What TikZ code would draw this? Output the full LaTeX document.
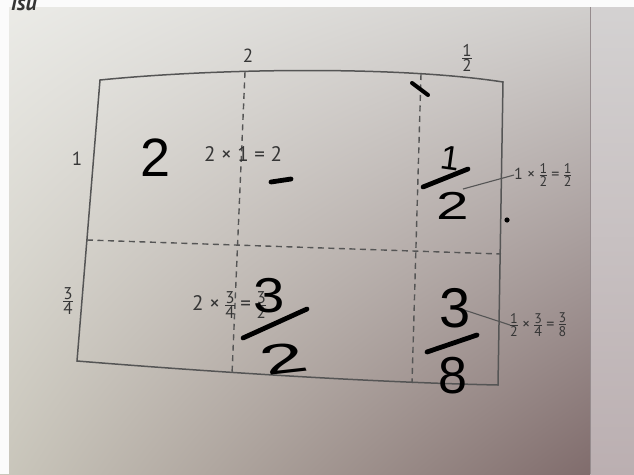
\documentclass[tikz,border=0pt]{standalone}
\usepackage{fontspec}
\usetikzlibrary{shadings}
\setmainfont{PT Sans}
\newfontfamily\handfont{Liberation Sans}
\newcommand\fsz[1]{\fontsize{#1}{#1}\selectfont}
\newcommand\fr[3]{\ensuremath{\vcenter{\offinterlineskip\halign{\hfil##\hfil\cr\fsz{#1}#2\cr\noalign{\kern1.3pt\hrule height 1pt\kern1.3pt}\fsz{#1}#3\cr}}}}
\definecolor{bgUL}{HTML}{ECECE8}
\definecolor{bgUR}{HTML}{D2D0CE}
\definecolor{bgLL}{HTML}{CAC7BC}
\definecolor{bgLR}{HTML}{806C6C}
\definecolor{bandT}{HTML}{D4D2D2}
\definecolor{bandB}{HTML}{BBAFB1}
\definecolor{txtgray}{HTML}{363636}
\definecolor{linegray}{HTML}{555555}
\begin{document}
\begin{tikzpicture}[x=1pt,y=-1pt,
  lbl/.style={inner sep=0pt, text=txtgray, font=\fsz{21}},
  call/.style={inner sep=0pt, text=txtgray, font=\fsz{16}},
  edgeline/.style={draw=linegray, line width=1.5pt},
  dashline/.style={draw=linegray, line width=1.4pt, dash pattern=on 6pt off 4.5pt},
  leader/.style={draw=linegray, line width=1.1pt},
  hw/.style={inner sep=0pt, text=black, font=\handfont},
  hwstroke/.style={draw=black, line width=4.8pt, line cap=round},
]
\useasboundingbox (0,0) rectangle (634,474);
% photographed page
\shade[upper left=bgUL, upper right=bgUR, lower left=bgLL, lower right=bgLR] (0,0) rectangle (590,474);
\shade[top color=bandT, bottom color=bandB] (590,0) rectangle (634,474);
\draw[draw=bandB!80!black, line width=0.6pt] (590,0) -- (590,474);
\fill[white!97!gray] (0,0) rectangle (634,7);
\fill[white!97!gray] (0,0) rectangle (9,474);
\node[inner sep=0pt, text=txtgray, font=\fsz{22}\bfseries\itshape, anchor=west] (frag) at (11,5) {ısu};
% rectangle
\coordinate (TL) at (100,80);
\coordinate (TR) at (503,82);
\coordinate (BR) at (498,385);
\coordinate (BL) at (77,361);
\draw[edgeline] (TL) .. controls (220,68) and (400,66) .. (TR) -- (BR) .. controls (400,383) and (250,375) .. (BL) -- cycle;
% dashed dividers
\coordinate (v1t) at (245,72);
\coordinate (v1b) at (232,374);
\coordinate (v2t) at (421,74);
\coordinate (v2b) at (412,383);
\coordinate (hl) at (87,240);
\coordinate (hr) at (501,254);
\draw[dashline] (v1t) -- (v1b);
\draw[dashline] (v2t) -- (v2b);
\draw[dashline] (hl) -- (hr);
% printed labels
\node[lbl, font=\fsz{19}] (top2) at (248,56) {2};
\node[lbl] (tophalf) at (467,58) {\fr{17}{1}{2}};
\node[lbl, font=\fsz{19}] (left1) at (77,159) {1};
\node[lbl] (left34) at (68,301) {\fr{17}{3}{4}};
\node[lbl] (eq1) at (243,154) {2 × 1 = 2};
\node[lbl, anchor=west] (eq2) at (192,305) {2 × \fr{17}{3}{4} = \fr{17}{3}{2}};
\node[call, anchor=west] (c1) at (514,175) {1 × \fr{14}{1}{2} = \fr{14}{1}{2}};
\node[call, anchor=west] (c2) at (510,325) {\fr{14}{1}{2} × \fr{14}{3}{4} = \fr{14}{3}{8}};
\coordinate (l1) at (463,189);
\coordinate (l2) at (455,307);
\draw[leader] (l1) -- (c1.west);
\draw[leader] (l2) -- (c2.west);
% handwriting
\node[hw, font=\handfont\fsz{54}] (h2) at (156,158) {2};
\draw[hwstroke] (271,182) -- (291,179);
\draw[hwstroke, line width=4pt] (412,83) -- (428,95);
\node[hw, font=\handfont\fsz{34}, rotate=-8] (ha1) at (450,158) {1};
\draw[hwstroke] (423,187) -- (468,169);
\node[hw, font=\handfont\fsz{39}, xscale=1.5] (ha2) at (453,206) {2};
\fill[black] (507,220) circle (2.6);
\node[hw, font=\handfont\fsz{49}, xscale=1.15] (hb3) at (269,296) {3};
\draw[hwstroke] (243,338) -- (307,309);
\node[hw, font=\handfont\fsz{42}, xscale=1.9, rotate=12] (hb2) at (283,359) {2};
\node[hw, font=\handfont\fsz{56}] (hc3) at (455,308) {3};
\draw[hwstroke] (427,352) -- (477,335);
\node[hw, font=\handfont\fsz{52}] (hc8) at (453,376) {8};
\end{tikzpicture}
\end{document}
